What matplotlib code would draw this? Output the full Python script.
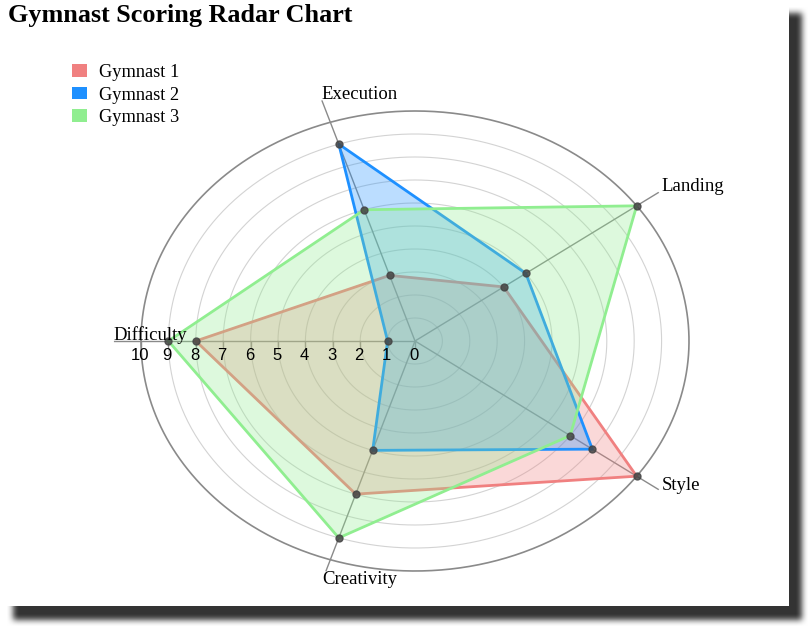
import numpy as np
import matplotlib
matplotlib.use('Agg')
import matplotlib.pyplot as plt
from matplotlib.patches import Patch
from matplotlib import transforms

# ---- data ----
categories = ['Difficulty', 'Execution', 'Landing', 'Style', 'Creativity']
series_names = ['Gymnast 1', 'Gymnast 2', 'Gymnast 3']
gymnast1 = [8, 3, 4, 10, 7]
gymnast2 = [1, 9, 5, 8, 5]
gymnast3 = [9, 6, 10, 7, 9]
tick_values = list(range(0, 11))
colors = ['#F08080', '#1E90FF', '#90EE90']
title = 'Gymnast Scoring Radar Chart'

W, H = 812, 629
fig = plt.figure(figsize=(W / 100, H / 100), dpi=100, facecolor='white')

# ---- background panel with drop shadow ----
bg = np.ones((H, W, 3))
mask = np.zeros((H, W))
mask[13:620, 13:802] = 1.0
k = np.ones(7) / 7
for _ in range(2):
    mask = np.apply_along_axis(lambda m: np.convolve(m, k, mode='same'), 0, mask)
    mask = np.apply_along_axis(lambda m: np.convolve(m, k, mode='same'), 1, mask)
shade = 0.2
bg = bg * (1 - mask[..., None]) + shade * mask[..., None]
bg[0:606, 0:789] = 1.0
fig.figimage(bg, xo=0, yo=0, origin='upper', zorder=-10)

# ---- polar axes (stretched into an ellipse) ----
cx, cy = 415, 288
rmax_axis = 11
rx = 27.4 * rmax_axis
ry = 23.0 * rmax_axis
ax = fig.add_axes([(cx - rx) / W, (cy - ry) / H, 2 * rx / W, 2 * ry / H],
                  projection='polar', zorder=5)
ax.set_aspect('auto')
ax.set_theta_offset(np.pi)
ax.set_theta_direction(-1)
ax.set_ylim(0, rmax_axis)
ax.set_axis_off()

n = len(categories)
thetas = np.arange(n) * 2 * np.pi / n

# grid rings
ring = np.linspace(0, 2 * np.pi, 721)
for lvl in range(1, 11):
    if lvl < 10:
        ax.plot(ring, np.full_like(ring, lvl), color='#d3d3d3', lw=0.8, zorder=1)
    else:
        ax.plot(ring, np.full_like(ring, lvl), color='#8a8a8a', lw=1.2, zorder=1)

# radial axis lines
line_len = {'Difficulty': 11, 'Execution': 11, 'Landing': 11.15, 'Style': 11.15, 'Creativity': 10.5}
for th, cat in zip(thetas, categories):
    ax.plot([th, th], [0, line_len[cat]], color='#8a8a8a', lw=1.0, zorder=2)

# tick marks + labels along Difficulty axis
ax.plot(np.zeros(len(tick_values)), tick_values, linestyle='none',
        marker=[(0, 0), (0, -1)], ms=8, mew=1.0, color='#8a8a8a', zorder=2)
tick_tr = transforms.offset_copy(ax.transData, fig=fig, x=-1, y=-7, units='dots')
for v in tick_values:
    ax.text(0, v, str(v), transform=tick_tr, ha='center', va='top',
            family='Liberation Sans', fontsize=12, color='black', zorder=6)

# series
series = [gymnast1, gymnast2, gymnast3]
for vals, c in zip(series, colors):
    th_c = np.append(thetas, thetas[0])
    v_c = np.append(vals, vals[0])
    ax.fill(th_c, v_c, color=c, alpha=0.3, lw=0, zorder=3)
    ax.plot(th_c, v_c, color=c, lw=2.0, zorder=3)
    ax.plot(thetas, vals, 'o', color='#444444', ms=5, alpha=0.85, zorder=4)

# category labels
label_va = {'Difficulty': 'baseline', 'Execution': 'baseline', 'Landing': 'baseline',
            'Style': 'baseline', 'Creativity': 'top'}
label_dx = {'Difficulty': 0, 'Execution': 0, 'Landing': 3, 'Style': 3, 'Creativity': 0}
label_dy = {'Difficulty': 1, 'Execution': 1, 'Landing': 1, 'Style': 0, 'Creativity': 11}
for th, cat in zip(thetas, categories):
    tr = transforms.offset_copy(ax.transData, fig=fig, x=label_dx[cat], y=label_dy[cat],
                                units='dots')
    ax.text(th, rmax_axis, cat, transform=tr, ha='left', va=label_va[cat],
            family='Liberation Serif', fontsize=13.5, color='black', zorder=6)

# legend
handles = [Patch(facecolor=c, edgecolor='none', label=nm) for c, nm in zip(colors, series_names)]
fig.legend(handles=handles, loc='upper left', bbox_to_anchor=(72 / W, 1 - 64 / H),
           frameon=False, prop={'family': 'Liberation Serif', 'size': 13.2},
           handlelength=0.82, handleheight=0.66, handletextpad=0.65,
           labelspacing=0.3, borderaxespad=0, borderpad=0)

# title
fig.text(8 / W, 1 - 4 / H, title, ha='left', va='top', family='Liberation Serif',
         fontweight='bold', fontsize=18.8, color='black')

fig.savefig('out.png', dpi=100, facecolor='white')
